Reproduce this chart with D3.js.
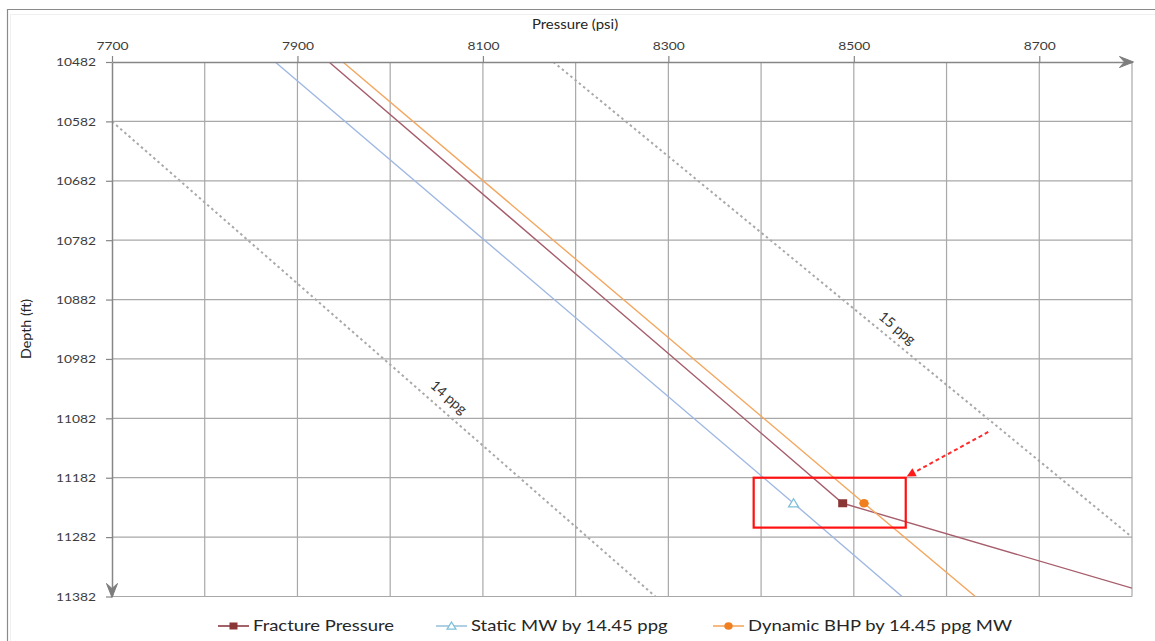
<!DOCTYPE html>
<html>
<head>
<meta charset="utf-8">
<script src="https://cdn.jsdelivr.net/npm/d3@7"></script>
<style>
  body { margin: 0; background: #fff; }
  svg { display: block; font-family: Lato, "Open Sans", sans-serif; }
</style>
</head>
<body>
<svg id="chart" width="1155" height="641"></svg>
<script>
// Axis ticks
const pressureTicks = [7700, 7900, 8100, 8300, 8500, 8700];
const pressureGrid = [7700, 7800, 7900, 8000, 8100, 8200, 8300, 8400, 8500, 8600, 8700, 8800];
const depthTicks = [10482, 10582, 10682, 10782, 10882, 10982, 11082, 11182, 11282, 11382];

// Series (depth in ft, pressure in psi)
const fractureDepth = [10482, 11225, 11368];
const fracturePressure = [7934, 8488, 8800];
const staticDepth = [10482, 11225, 11382];
const staticPressure = [7876, 8435, 8552];
const dynamicDepth = [10482, 11225, 11382];
const dynamicPressure = [7949, 8511, 8631];

// Marked points at the bit depth
const markerDepth = 11225;
const markerPressure = { fracture: 8488, static: 8435, dynamic: 8511 };

// Mud-weight reference gradients
const ppg14Depth = [10582, 11382];
const ppg14Pressure = [7700, 8286];
const ppg15Depth = [10482, 11282];
const ppg15Pressure = [8176, 8800];
const gradientLabels = [
  { text: "14 ppg", depth: 11063, pressure: 8054, line: [ppg14Pressure, ppg14Depth] },
  { text: "15 ppg", depth: 10947, pressure: 8538, line: [ppg15Pressure, ppg15Depth] }
];

// Highlight box and pointer (data units)
const boxPressure = [8392, 8556];
const boxDepth = [11182, 11266];
const pointerPressure = [8645, 8557];
const pointerDepth = [11105, 11180];

const legendItems = ["Fracture Pressure", "Static MW by 14.45 ppg", "Dynamic BHP by 14.45 ppg MW"];

const SX = 1.15; // horizontal text stretch
const svg = d3.select("#chart");

const x = d3.scaleLinear().domain([7700, 8800]).range([112, 1132]);
const y = d3.scaleLinear().domain([10482, 11382]).range([62, 596.5]);

// Outer chart frame
svg.append("path").attr("d", "M10.5,650V14.5H1160").attr("fill", "none").attr("stroke", "#efefef").attr("stroke-width", 1);
svg.append("path").attr("d", "M7.5,650V9.5H1160").attr("fill", "none").attr("stroke", "#8a8a8a").attr("stroke-width", 1.2);

// Gridlines
const grid = svg.append("g");
grid.selectAll(".vg").data(pressureGrid.slice(1)).join("line")
  .attr("x1", d => x(d)).attr("x2", d => x(d))
  .attr("y1", y(10482)).attr("y2", y(11382))
  .attr("stroke", "#a8a8a8").attr("stroke-width", 1.2);
grid.selectAll(".hg").data(depthTicks.slice(1)).join("line")
  .attr("x1", x(7700)).attr("x2", x(8800))
  .attr("y1", d => y(d)).attr("y2", d => y(d))
  .attr("stroke", "#a8a8a8").attr("stroke-width", 1.2);

// Clip for plotted series
svg.append("clipPath").attr("id", "plot-clip").append("rect")
  .attr("x", x(7700)).attr("y", y(10482))
  .attr("width", x(8800) - x(7700)).attr("height", y(11382) - y(10482));
const plot = svg.append("g").attr("clip-path", "url(#plot-clip)");

const line = d3.line().x(d => x(d[0])).y(d => y(d[1]));
const zip = (p, d) => p.map((v, i) => [v, d[i]]);

// Reference gradients (dotted)
[[ppg14Pressure, ppg14Depth], [ppg15Pressure, ppg15Depth]].forEach(([p, d]) => {
  plot.append("path").attr("d", line(zip(p, d)))
    .attr("fill", "none").attr("stroke", "#a9a9a9").attr("stroke-width", 2)
    .attr("stroke-dasharray", "2.5,3");
});

// Main series
plot.append("path").attr("d", line(zip(staticPressure, staticDepth)))
  .attr("fill", "none").attr("stroke", "#a0b9e3").attr("stroke-width", 1.4);
plot.append("path").attr("d", line(zip(fracturePressure, fractureDepth)))
  .attr("fill", "none").attr("stroke", "#a65e6c").attr("stroke-width", 1.4);
plot.append("path").attr("d", line(zip(dynamicPressure, dynamicDepth)))
  .attr("fill", "none").attr("stroke", "#f4a760").attr("stroke-width", 1.4);

// Gradient labels, rotated along their line
gradientLabels.forEach(l => {
  const [p, d] = l.line;
  const r = Math.atan2(y(d[1]) - y(d[0]), x(p[1]) - x(p[0]));
  const ang = r * 180 / Math.PI;
  const px = x(l.pressure), py = y(l.depth);
  const off = 13;
  const cx = px + off * Math.sin(r), cy = py - off * Math.cos(r);
  svg.append("text")
    .attr("transform", `translate(${cx},${cy}) rotate(${ang})`)
    .attr("text-anchor", "middle").attr("dy", "0.35em")
    .attr("font-size", 14).attr("fill", "#333")
    .text(l.text);
});

// Markers
function square(g, cx, cy, s, fill) {
  g.append("rect").attr("x", cx - s / 2).attr("y", cy - s / 2 + 0.5).attr("width", s).attr("height", s - 1).attr("fill", fill);
}
function triangle(g, cx, cy, s, stroke) {
  g.append("path")
    .attr("d", `M${cx},${cy - s * 0.5}L${cx + s * 0.55},${cy + s * 0.4}L${cx - s * 0.55},${cy + s * 0.4}Z`)
    .attr("fill", "#fff").attr("stroke", stroke).attr("stroke-width", 1.3);
}
function circle(g, cx, cy, r, fill) {
  g.append("ellipse").attr("cx", cx).attr("cy", cy).attr("rx", r * 1.1).attr("ry", r).attr("fill", fill);
}
triangle(svg, x(markerPressure.static), y(markerDepth), 9, "#7fbfd9");
square(svg, x(markerPressure.fracture), y(markerDepth), 9, "#8b3636");
circle(svg, x(markerPressure.dynamic), y(markerDepth), 4.3, "#f0801f");

// Highlight box
svg.append("rect")
  .attr("x", x(boxPressure[0])).attr("y", y(boxDepth[0]))
  .attr("width", x(boxPressure[1]) - x(boxPressure[0]))
  .attr("height", y(boxDepth[1]) - y(boxDepth[0]))
  .attr("fill", "none").attr("stroke", "#ff1010").attr("stroke-width", 2.2);

// Dashed pointer arrow
{
  const x0 = x(pointerPressure[0]), y0 = y(pointerDepth[0]);
  const x1 = x(pointerPressure[1]), y1 = y(pointerDepth[1]);
  const a = Math.atan2(y1 - y0, x1 - x0);
  const hl = 9, hw = 4.5;
  const bx = x1 - hl * Math.cos(a), by = y1 - hl * Math.sin(a);
  svg.append("line").attr("x1", x0).attr("y1", y0).attr("x2", bx).attr("y2", by)
    .attr("stroke", "#ff2a2a").attr("stroke-width", 2).attr("stroke-dasharray", "4,3");
  svg.append("path")
    .attr("d", `M${x1},${y1}L${bx - hw * Math.sin(a)},${by + hw * Math.cos(a)}L${bx + hw * Math.sin(a)},${by - hw * Math.cos(a)}Z`)
    .attr("fill", "#ff1a1a");
}

// Axes
const xAxis = svg.append("g").attr("transform", `translate(0,${y(10482)})`)
  .call(d3.axisTop(x).tickValues(pressureTicks).tickSize(6).tickSizeOuter(0).tickPadding(6).tickFormat(d3.format("d")));
const yAxis = svg.append("g").attr("transform", `translate(${x(7700)},0)`)
  .call(d3.axisLeft(y).tickValues(depthTicks).tickSize(6).tickSizeOuter(0).tickPadding(10).tickFormat(d3.format("d")));
[xAxis, yAxis].forEach(a => {
  a.select(".domain").attr("stroke", "#868686").attr("stroke-width", 1.5);
  a.selectAll(".tick line").attr("stroke", "#868686").attr("stroke-width", 1.2);
  a.selectAll("text").attr("font-size", 12).attr("fill", "#3c3c3c").attr("font-family", "Lato, sans-serif");
});
xAxis.selectAll(".tick text").attr("transform", `scale(${SX},1)`);
yAxis.selectAll(".tick text").attr("x", -16 / SX).attr("transform", `scale(${SX},1)`);

// Axis arrowheads
const stealth = (tx, ty, rot) => svg.append("path")
  .attr("transform", `translate(${tx},${ty}) rotate(${rot})`)
  .attr("d", "M0,0L-14,-5.5L-9,0L-14,5.5Z")
  .attr("fill", "#7d7d7d").attr("stroke", "#7d7d7d").attr("stroke-width", 1).attr("stroke-linejoin", "round");
stealth(x(8800) + 1.5, y(10482), 0);
stealth(x(7700), y(11382) + 1, 90);

// Axis titles
svg.append("text").attr("transform", `translate(${(x(7700) + x(8800)) / 2 - 47},29) scale(${SX},1)`)
  .attr("text-anchor", "middle").attr("font-size", 13).attr("fill", "#262626").text("Pressure (psi)");
svg.append("text").attr("transform", `translate(31,329) rotate(-90) scale(1.1,1)`)
  .attr("text-anchor", "middle").attr("font-size", 13).attr("fill", "#262626").text("Depth (ft)");

// Legend
const LSX = 1.19;
const legendY = 626;
const legendX = [218, 436, 713];
const lg = svg.append("g");
legendItems.forEach((t, i) => {
  const x0 = legendX[i];
  lg.append("line").attr("x1", x0).attr("x2", x0 + 31).attr("y1", legendY).attr("y2", legendY)
    .attr("stroke", ["#8b3a44", "#9bc3dc", "#f4a760"][i]).attr("stroke-width", 1.6);
  if (i === 0) square(lg, x0 + 15.5, legendY, 8, "#8b3636");
  if (i === 1) triangle(lg, x0 + 15.5, legendY, 8, "#7fbfd9");
  if (i === 2) circle(lg, x0 + 15.5, legendY, 3.8, "#f0801f");
  lg.append("text").attr("transform", `translate(${x0 + 35},${legendY}) scale(${LSX},1)`)
    .attr("dy", "0.35em").attr("font-size", 15.5).attr("fill", "#262626").text(t);
});
</script>
</body>
</html>
